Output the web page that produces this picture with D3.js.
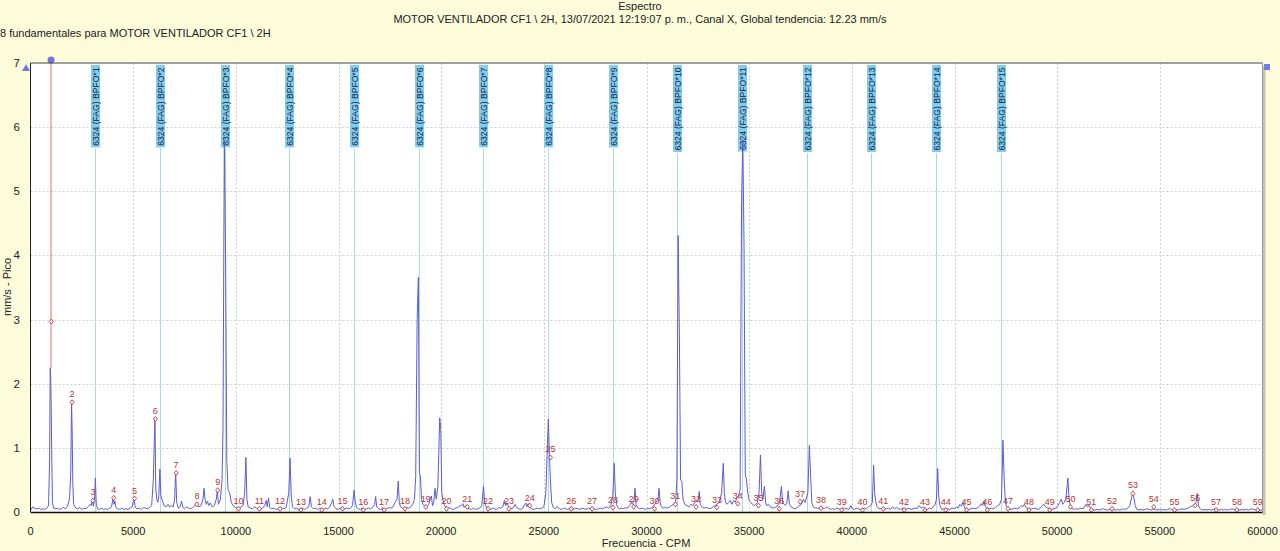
<!DOCTYPE html>
<html>
<head>
<meta charset="utf-8">
<script src="https://cdn.jsdelivr.net/npm/d3@7"></script>
<style>
  html, body { margin: 0; padding: 0; background: #fcfcda; }
  svg { display: block; font-family: "Liberation Sans", Arial, sans-serif; }
</style>
</head>
<body>
<div id="chart"></div>
<script>
// header texts
var chartTitle = "Espectro";
var chartSubtitle = "MOTOR VENTILADOR CF1 \\ 2H, 13/07/2021 12:19:07 p. m., Canal X, Global tendencia: 12.23 mm/s";
var chartNote = "8 fundamentales para MOTOR VENTILADOR CF1 \\ 2H";
var xTitle = "Frecuencia - CPM";
var yTitle = "mm/s - Pico";

// axis ticks
var xTicks = [0, 5000, 10000, 15000, 20000, 25000, 30000, 35000, 40000, 45000, 50000, 55000, 60000];
var yTicks = [0, 1, 2, 3, 4, 5, 6, 7];

// bearing fault frequency (BPFO, CPM) and its harmonics shown
var bpfoName = "6324 (FAG) BPFO*";
var bpfoCpm = 3150;
var bpfoOrders = [1, 2, 3, 4, 5, 6, 7, 8, 9, 10, 11, 12, 13, 14, 15];

// running speed cursor
var cursorCpm = 1000;

// numbered run-speed harmonics: frequency step and amplitude read at each marker
var harmonicStep = 1013;
var harmonicAmps = [2.97, 1.71, 0.18, 0.22, 0.21, 1.45, 0.61, 0.12, 0.34, 0.05,
  0.05, 0.05, 0.03, 0.03, 0.05, 0.03, 0.03, 0.05, 0.08, 0.05,
  0.08, 0.05, 0.05, 0.1, 0.85, 0.05, 0.05, 0.07, 0.08, 0.05,
  0.12, 0.08, 0.07, 0.13, 0.1, 0.05, 0.16, 0.06, 0.03, 0.03,
  0.05, 0.03, 0.03, 0.03, 0.03, 0.03, 0.05, 0.03, 0.03, 0.08,
  0.03, 0.05, 0.29, 0.08, 0.03, 0.1, 0.03, 0.03, 0.03];

// spectrum [CPM, mm/s]
var spectrum = [
  [0,0.02],[100,0.08],[200,0.06],[300,0.05],[400,0.06],[500,0.04],[600,0.05],[700,0.04],[800,0.06],[880,0.1],
  [930,0.8],[960,2.25],[985,2.1],[1010,1.6],[1040,0.75],[1070,0.15],[1120,0.06],[1200,0.05],[1300,0.06],[1400,0.04],
  [1500,0.05],[1600,0.07],[1700,0.05],[1800,0.09],[1900,0.2],[1960,0.6],[2000,1.72],[2030,1.25],[2060,0.45],[2100,0.12],
  [2200,0.06],[2300,0.05],[2400,0.07],[2500,0.04],[2600,0.06],[2700,0.05],[2800,0.08],[2900,0.12],[2960,0.1],[3010,0.19],
  [3060,0.09],[3120,0.2],[3160,0.53],[3200,0.15],[3260,0.05],[3350,0.04],[3450,0.06],[3550,0.04],[3650,0.05],[3750,0.04],
  [3850,0.06],[3950,0.08],[4020,0.22],[4070,0.12],[4110,0.17],[4160,0.07],[4250,0.05],[4350,0.04],[4450,0.06],[4550,0.04],
  [4650,0.05],[4750,0.04],[4850,0.06],[4950,0.08],[5040,0.22],[5100,0.07],[5200,0.05],[5300,0.06],[5400,0.04],[5500,0.07],
  [5600,0.06],[5700,0.05],[5800,0.07],[5900,0.1],[5980,0.5],[6030,1.1],[6063,1.47],[6100,0.35],[6150,0.2],[6200,0.15],
  [6250,0.25],[6300,0.67],[6350,0.25],[6420,0.18],[6500,0.1],[6600,0.08],[6700,0.12],[6780,0.08],[6850,0.1],[6950,0.08],
  [7020,0.2],[7070,0.62],[7120,0.15],[7200,0.06],[7280,0.08],[7360,0.17],[7420,0.07],[7500,0.05],[7600,0.08],[7700,0.06],
  [7800,0.05],[7900,0.07],[8000,0.1],[8100,0.12],[8200,0.08],[8300,0.1],[8400,0.2],[8450,0.37],[8500,0.2],[8560,0.12],
  [8620,0.17],[8680,0.1],[8760,0.14],[8850,0.08],[8950,0.1],[9050,0.2],[9100,0.35],[9150,0.12],[9250,0.2],[9330,0.5],
  [9375,1.3],[9440,5.8],[9500,4.0],[9560,0.8],[9620,0.35],[9700,0.3],[9780,0.15],[9860,0.1],[9950,0.08],[10050,0.06],
  [10150,0.05],[10250,0.08],[10350,0.1],[10430,0.3],[10490,0.85],[10540,0.2],[10600,0.08],[10700,0.06],[10800,0.05],[10900,0.08],
  [11000,0.06],[11100,0.05],[11200,0.04],[11300,0.06],[11400,0.1],[11480,0.18],[11530,0.08],[11590,0.22],[11650,0.07],[11750,0.05],
  [11850,0.06],[11950,0.04],[12050,0.05],[12150,0.04],[12250,0.06],[12350,0.05],[12450,0.07],[12580,0.3],[12640,0.84],[12700,0.25],
  [12760,0.08],[12850,0.05],[12950,0.06],[13050,0.04],[13150,0.05],[13250,0.06],[13350,0.04],[13450,0.06],[13550,0.08],[13620,0.24],
  [13680,0.08],[13780,0.05],[13880,0.06],[13980,0.04],[14080,0.06],[14180,0.05],[14280,0.04],[14380,0.06],[14480,0.05],[14580,0.08],
  [14660,0.14],[14720,0.2],[14780,0.09],[14880,0.05],[14980,0.04],[15080,0.06],[15180,0.05],[15280,0.04],[15380,0.06],[15480,0.05],
  [15580,0.06],[15680,0.1],[15760,0.34],[15820,0.15],[15880,0.07],[15960,0.05],[16060,0.04],[16160,0.06],[16260,0.04],[16360,0.05],
  [16460,0.06],[16560,0.05],[16660,0.07],[16760,0.12],[16810,0.24],[16860,0.08],[16960,0.05],[17060,0.04],[17160,0.06],[17260,0.04],
  [17360,0.05],[17460,0.07],[17560,0.06],[17660,0.08],[17760,0.15],[17850,0.2],[17910,0.48],[17960,0.15],[18020,0.08],[18120,0.06],
  [18220,0.05],[18320,0.07],[18420,0.06],[18520,0.08],[18620,0.12],[18700,0.2],[18760,0.55],[18830,3.0],[18890,3.66],[18940,0.6],
  [18990,0.56],[19040,0.2],[19110,0.12],[19200,0.1],[19300,0.08],[19400,0.12],[19460,0.2],[19520,0.25],[19580,0.1],[19640,0.15],
  [19700,0.37],[19760,0.2],[19840,0.4],[19930,1.47],[19980,1.3],[20030,0.3],[20080,0.2],[20140,0.12],[20200,0.08],[20300,0.06],
  [20400,0.07],[20500,0.05],[20600,0.04],[20700,0.06],[20800,0.07],[20900,0.09],[20980,0.1],[21060,0.13],[21120,0.07],[21200,0.1],
  [21280,0.06],[21380,0.05],[21480,0.04],[21580,0.06],[21680,0.04],[21780,0.05],[21880,0.06],[21980,0.1],[22060,0.4],[22110,0.18],
  [22160,0.1],[22220,0.06],[22300,0.05],[22400,0.04],[22500,0.06],[22600,0.05],[22700,0.04],[22800,0.07],[22900,0.06],[23000,0.08],
  [23080,0.18],[23140,0.1],[23220,0.14],[23300,0.07],[23400,0.05],[23500,0.06],[23600,0.12],[23680,0.07],[23780,0.05],[23880,0.04],
  [23980,0.06],[24060,0.12],[24120,0.14],[24170,0.08],[24230,0.13],[24300,0.07],[24400,0.05],[24500,0.04],[24600,0.05],[24700,0.06],
  [24800,0.05],[24900,0.06],[25000,0.08],[25100,0.3],[25170,1.0],[25220,1.45],[25270,0.9],[25320,0.5],[25380,0.15],[25460,0.07],
  [25560,0.05],[25660,0.09],[25760,0.05],[25860,0.04],[25960,0.06],[26060,0.05],[26160,0.04],[26260,0.06],[26360,0.05],[26460,0.04],
  [26560,0.06],[26660,0.05],[26760,0.04],[26860,0.06],[26960,0.05],[27060,0.04],[27160,0.06],[27260,0.05],[27360,0.07],[27460,0.05],
  [27560,0.04],[27660,0.05],[27760,0.06],[27860,0.05],[27960,0.07],[28060,0.08],[28160,0.06],[28260,0.1],[28360,0.25],[28430,0.76],
  [28480,0.3],[28540,0.12],[28600,0.07],[28680,0.05],[28780,0.06],[28880,0.05],[28980,0.07],[29080,0.06],[29180,0.1],[29260,0.15],
  [29320,0.12],[29400,0.2],[29440,0.37],[29490,0.12],[29560,0.07],[29660,0.05],[29760,0.06],[29860,0.05],[29960,0.04],[30060,0.06],
  [30160,0.05],[30260,0.07],[30360,0.1],[30460,0.15],[30560,0.2],[30610,0.37],[30660,0.15],[30720,0.08],[30820,0.06],[30920,0.07],
  [31020,0.06],[31120,0.08],[31220,0.1],[31320,0.12],[31420,0.15],[31480,0.5],[31540,4.31],[31600,2.8],[31660,0.5],[31720,0.48],
  [31780,0.2],[31860,0.12],[31960,0.1],[32060,0.08],[32160,0.12],[32260,0.1],[32360,0.15],[32440,0.18],[32520,0.2],[32570,0.32],
  [32620,0.12],[32700,0.08],[32800,0.06],[32900,0.07],[33000,0.06],[33100,0.05],[33200,0.07],[33300,0.09],[33420,0.12],[33540,0.15],
  [33660,0.3],[33740,0.76],[33790,0.3],[33850,0.15],[33920,0.12],[34000,0.15],[34080,0.18],[34160,0.12],[34240,0.18],[34320,0.15],
  [34400,0.22],[34480,0.25],[34560,0.35],[34630,4.86],[34690,5.8],[34750,4.16],[34810,0.6],[34870,0.5],[34930,0.3],[35000,0.18],
  [35080,0.15],[35160,0.12],[35240,0.1],[35320,0.12],[35400,0.15],[35480,0.3],[35550,0.89],[35610,0.3],[35670,0.2],[35740,0.4],
  [35800,0.15],[35860,0.1],[35940,0.12],[36020,0.08],[36100,0.07],[36200,0.06],[36300,0.08],[36400,0.1],[36480,0.15],[36570,0.4],
  [36630,0.15],[36700,0.12],[36760,0.1],[36840,0.15],[36900,0.33],[36960,0.12],[37040,0.08],[37140,0.06],[37240,0.05],[37340,0.07],
  [37440,0.1],[37540,0.12],[37640,0.2],[37720,0.15],[37860,0.3],[37930,1.04],[37990,0.6],[38050,0.15],[38120,0.08],[38200,0.06],
  [38260,0.07],[38360,0.05],[38460,0.08],[38560,0.06],[38660,0.05],[38760,0.08],[38860,0.06],[38960,0.04],[39060,0.05],[39160,0.04],
  [39260,0.06],[39360,0.05],[39460,0.04],[39560,0.05],[39660,0.06],[39760,0.05],[39860,0.04],[39960,0.1],[40020,0.05],[40120,0.04],
  [40220,0.06],[40320,0.05],[40420,0.04],[40520,0.05],[40620,0.06],[40720,0.05],[40820,0.08],[40920,0.1],[41000,0.15],[41060,0.73],
  [41110,0.3],[41170,0.15],[41230,0.08],[41300,0.06],[41380,0.05],[41480,0.06],[41580,0.04],[41680,0.05],[41780,0.06],[41880,0.04],
  [41980,0.08],[42080,0.05],[42180,0.07],[42280,0.05],[42380,0.04],[42480,0.06],[42580,0.04],[42680,0.05],[42780,0.06],[42880,0.04],
  [42980,0.05],[43080,0.06],[43180,0.05],[43280,0.1],[43380,0.06],[43480,0.08],[43580,0.05],[43680,0.04],[43780,0.06],[43880,0.05],
  [43960,0.08],[44060,0.12],[44120,0.2],[44180,0.68],[44230,0.25],[44290,0.1],[44380,0.04],[44480,0.05],[44580,0.04],[44680,0.05],
  [44780,0.04],[44880,0.06],[44980,0.05],[45080,0.08],[45180,0.06],[45260,0.12],[45340,0.09],[45420,0.15],[45500,0.06],[45600,0.05],
  [45700,0.04],[45800,0.05],[45900,0.06],[46000,0.05],[46100,0.06],[46200,0.08],[46300,0.13],[46370,0.1],[46440,0.17],[46500,0.08],
  [46600,0.06],[46700,0.05],[46800,0.06],[46900,0.05],[47000,0.07],[47100,0.1],[47200,0.12],[47290,0.2],[47360,1.12],[47420,0.5],
  [47480,0.15],[47540,0.08],[47640,0.05],[47740,0.04],[47840,0.05],[47940,0.06],[48040,0.05],[48140,0.06],[48240,0.1],[48320,0.08],
  [48400,0.12],[48480,0.07],[48580,0.05],[48680,0.04],[48780,0.05],[48880,0.06],[48980,0.05],[49080,0.04],[49180,0.06],[49280,0.1],
  [49360,0.12],[49440,0.08],[49540,0.06],[49640,0.05],[49740,0.04],[49840,0.05],[49940,0.06],[50040,0.1],[50120,0.15],[50200,0.2],
  [50270,0.12],[50340,0.15],[50420,0.2],[50520,0.53],[50580,0.2],[50640,0.1],[50700,0.06],[50800,0.04],[50900,0.05],[51000,0.04],
  [51100,0.06],[51200,0.05],[51300,0.06],[51400,0.12],[51480,0.08],[51560,0.1],[51640,0.05],[51740,0.04],[51840,0.03],[51940,0.04],
  [52040,0.03],[52140,0.04],[52240,0.05],[52340,0.04],[52440,0.03],[52540,0.04],[52640,0.05],[52740,0.04],[52840,0.03],[52940,0.04],
  [53040,0.03],[53140,0.04],[53240,0.05],[53340,0.04],[53440,0.06],[53540,0.1],[53620,0.22],[53680,0.3],[53740,0.22],[53800,0.1],
  [53880,0.04],[53980,0.03],[54080,0.04],[54180,0.03],[54280,0.04],[54380,0.05],[54480,0.04],[54580,0.03],[54680,0.05],[54780,0.04],
  [54880,0.03],[54980,0.04],[55080,0.03],[55180,0.04],[55280,0.03],[55380,0.04],[55480,0.05],[55580,0.04],[55680,0.03],[55780,0.04],
  [55880,0.03],[55980,0.04],[56080,0.05],[56180,0.04],[56280,0.05],[56380,0.06],[56480,0.08],[56600,0.1],[56700,0.12],[56760,0.15],
  [56820,0.29],[56880,0.1],[56940,0.06],[57000,0.04],[57100,0.03],[57200,0.04],[57300,0.03],[57400,0.04],[57500,0.03],[57600,0.04],
  [57700,0.05],[57800,0.04],[57900,0.03],[58000,0.04],[58100,0.03],[58200,0.04],[58300,0.03],[58400,0.04],[58500,0.05],[58600,0.04],
  [58700,0.03],[58800,0.04],[58900,0.03],[59000,0.04],[59100,0.03],[59200,0.04],[59300,0.03],[59400,0.04],[59500,0.05],[59600,0.04],
  [59700,0.03],[59800,0.04],[59900,0.03],[60000,0.03]
];

var W = 1280, H = 551;
var plotL = 30.5, plotR = 1262.5, plotT = 63, plotB = 512;

var svg = d3.select("#chart").append("svg")
  .attr("width", W).attr("height", H);

svg.append("rect").attr("width", W).attr("height", H).attr("fill", "#fcfcda");

var x = d3.scaleLinear().domain([0, 60000]).range([plotL, plotR]);
var y = d3.scaleLinear().domain([0, 7]).range([plotB, plotT]);

// headers
svg.append("text").attr("x", 640).attr("y", 10).attr("text-anchor", "middle")
  .attr("font-size", 11).attr("fill", "#222").text(chartTitle);
svg.append("text").attr("x", 640).attr("y", 23).attr("text-anchor", "middle")
  .attr("font-size", 11).attr("fill", "#222").text(chartSubtitle);
svg.append("text").attr("x", 0).attr("y", 37)
  .attr("font-size", 11).attr("fill", "#222").text(chartNote);

// plot area with shadow on right
svg.append("rect").attr("x", plotR).attr("y", plotT + 3).attr("width", 3).attr("height", plotB - plotT)
  .attr("fill", "#c4c4b4");
svg.append("rect").attr("x", plotL).attr("y", plotT).attr("width", plotR - plotL).attr("height", plotB - plotT)
  .attr("fill", "#fff");

// grid
var grid = svg.append("g").attr("stroke", "#cfcfcf").attr("stroke-dasharray", "2,2").attr("stroke-width", 1);
grid.selectAll(".gx").data(xTicks.slice(1, -1)).enter().append("line")
  .attr("x1", function(d) { return Math.round(x(d)) + 0.5; })
  .attr("x2", function(d) { return Math.round(x(d)) + 0.5; })
  .attr("y1", plotT).attr("y2", plotB);
grid.selectAll(".gy").data(yTicks.slice(1, -1)).enter().append("line")
  .attr("y1", function(d) { return Math.round(y(d)) + 0.5; })
  .attr("y2", function(d) { return Math.round(y(d)) + 0.5; })
  .attr("x1", plotL).attr("x2", plotR);

// BPFO harmonic lines with labels
var bpfo = svg.append("g").selectAll("g").data(bpfoOrders).enter().append("g")
  .attr("transform", function(d) { return "translate(" + (Math.round(x(d * bpfoCpm)) + 0.5) + ",66)"; });
bpfo.each(function(d) {
  var g = d3.select(this);
  var lab = g.append("g").attr("transform", "rotate(-90)");
  var bg = lab.append("rect");
  var t = lab.append("text").attr("x", -1.5).attr("y", 3.2).attr("text-anchor", "end")
    .attr("font-size", 8.6).attr("fill", "#1a2240").text(bpfoName + d);
  var len = t.node().getComputedTextLength();
  bg.attr("x", -len - 3).attr("y", -4.5).attr("width", len + 4).attr("height", 9).attr("fill", "#80cdf2");
  g.insert("line", ":first-child").attr("x1", 0).attr("x2", 0)
    .attr("y1", len + 4).attr("y2", plotB - 66)
    .attr("stroke", "#a6daf0").attr("stroke-width", 1);
});

// spectrum line
var line = d3.line().x(function(d) { return x(d[0]); }).y(function(d) { return y(d[1]); });
svg.append("path").datum(spectrum).attr("d", line)
  .attr("fill", "none").attr("stroke", "#5c5cd8").attr("stroke-width", 1);

// cursor
svg.append("line").attr("x1", x(cursorCpm)).attr("x2", x(cursorCpm))
  .attr("y1", plotT - 3).attr("y2", y(2.25)).attr("stroke", "#e07070").attr("stroke-width", 1);
svg.append("circle").attr("cx", x(cursorCpm)).attr("cy", plotT - 3).attr("r", 3.5).attr("fill", "#7474e4");

// harmonic markers; the first label is hidden under the cursor in the original
var harm = svg.append("g").selectAll("g").data(harmonicAmps).enter().append("g")
  .attr("transform", function(d, i) { return "translate(" + x((i + 1) * harmonicStep) + "," + y(d) + ")"; });
harm.append("path").attr("d", "M0,-2.5L2,0L0,2.5L-2,0Z")
  .attr("fill", "#fff").attr("stroke", "#c03838").attr("stroke-width", 0.9);
harm.append("text").attr("y", -5).attr("text-anchor", "middle")
  .attr("font-size", 9).attr("fill", "#b83232")
  .text(function(d, i) { return i === 0 ? null : i + 1; });

// plot frame
svg.append("line").attr("x1", plotL).attr("x2", plotR).attr("y1", plotT).attr("y2", plotT).attr("stroke", "#444");
svg.append("line").attr("x1", plotR).attr("x2", plotR).attr("y1", plotT).attr("y2", plotB).attr("stroke", "#999");
svg.append("line").attr("x1", plotL).attr("x2", plotL).attr("y1", plotT).attr("y2", plotB).attr("stroke", "#222");
svg.append("line").attr("x1", plotL).attr("x2", plotR).attr("y1", plotB + 0.5).attr("y2", plotB + 0.5)
  .attr("stroke", "#111").attr("stroke-width", 1.5);

// axes labels
svg.append("g").selectAll("text").data(xTicks).enter().append("text")
  .attr("x", function(d) { return x(d); }).attr("y", 535).attr("text-anchor", "middle")
  .attr("font-size", 11).attr("fill", "#222").text(function(d) { return d; });
svg.append("g").selectAll("text").data(yTicks).enter().append("text")
  .attr("x", 20).attr("y", function(d) { return y(d) + 4; }).attr("text-anchor", "end")
  .attr("font-size", 11.5).attr("fill", "#222").text(function(d) { return d; });

svg.append("text").attr("x", 646).attr("y", 547).attr("text-anchor", "middle")
  .attr("font-size", 11).attr("fill", "#222").text(xTitle);
svg.append("text").attr("transform", "translate(11,287) rotate(-90)").attr("text-anchor", "middle")
  .attr("font-size", 11).attr("fill", "#222").text(yTitle);

// zoom handles
svg.append("path").attr("d", "M22,71L26,64L30,71Z").attr("fill", "#7474e4");
svg.append("rect").attr("x", 1264).attr("y", 64).attr("width", 6).attr("height", 6).attr("fill", "#7878e0");
</script>
</body>
</html>
